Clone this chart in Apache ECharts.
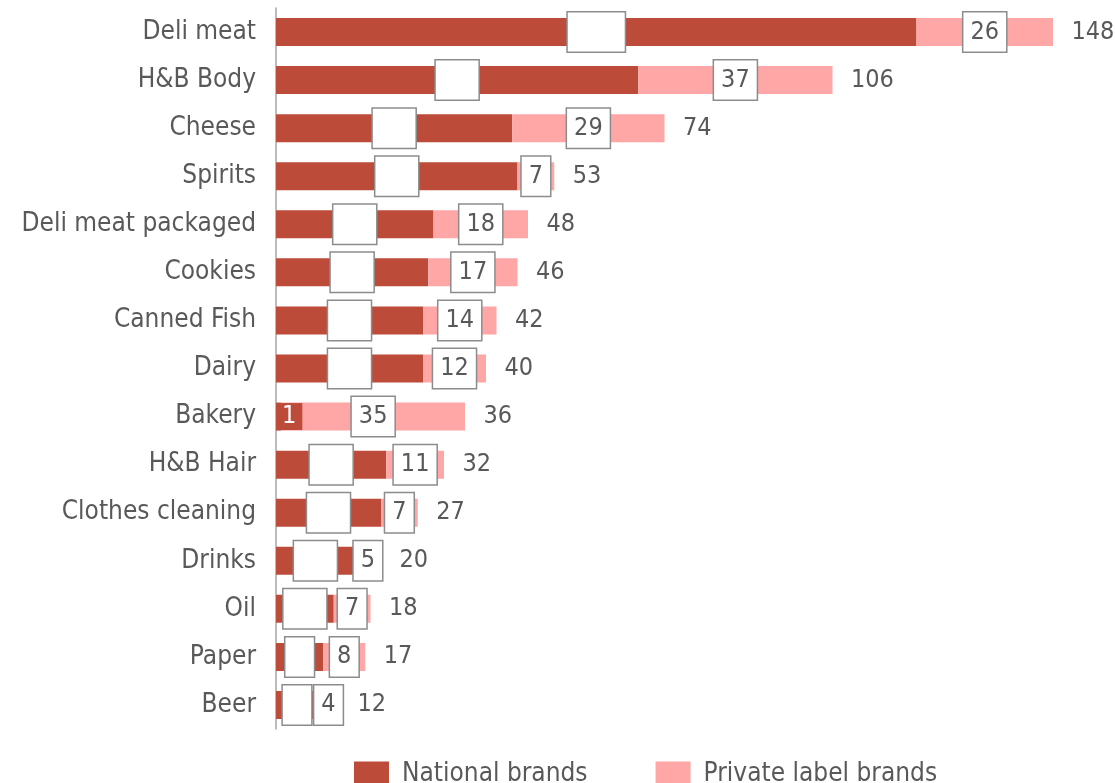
<!DOCTYPE html>
<html><head><meta charset="utf-8">
<script src="https://cdn.jsdelivr.net/npm/echarts@6/dist/echarts.min.js"></script>
<style>html,body{margin:0;padding:0;background:#fff}#c{width:1115px;height:783px}</style>
</head><body><div id="c"></div>
<script>
const categories = ["Deli meat","H&B Body","Cheese","Spirits","Deli meat packaged","Cookies","Canned Fish","Dairy","Bakery","H&B Hair","Clothes cleaning","Drinks","Oil","Paper","Beer"];
const nationalBrands = [122,69,45,46,30,29,28,28,1,21,20,15,11,9,8];
const privateLabel = [26,37,29,7,18,17,14,12,35,11,7,5,7,8,4];
const totals = [148,106,74,53,48,46,42,40,36,32,27,20,18,17,12];
const legendNames = ["National brands","Private label brands"];

const FONT = "DejaVu Sans Condensed";
const TXT = "#595959";
const DARK = "#BC4B3A";
const PINK = "#FFA6A6";
const boxLabel = {
  show: true, position: 'inside', fontFamily: FONT, fontSize: 25, lineHeight: 27,
  backgroundColor: '#fff', borderColor: '#8c8c8c', borderWidth: 1.5, padding: [6, 7]
};
const chart = echarts.init(document.getElementById('c'));
chart.setOption({
  animation: false,
  grid: {left: 276, right: 62, top: 8, bottom: 54},
  xAxis: {type: 'value', min: 0, max: 148, show: false},
  yAxis: {
    type: 'category', inverse: true, data: categories,
    axisLine: {show: true, lineStyle: {color: '#a6a6a6', width: 1.5}},
    axisTick: {show: false},
    axisLabel: {fontFamily: FONT, fontSize: 26, color: TXT, margin: 20}
  },
  legend: {
    data: legendNames, left: 349, top: 756, itemWidth: 35, itemHeight: 25, itemGap: 68, icon: 'rect',
    textStyle: {fontFamily: FONT, fontSize: 26, color: TXT, padding: [0,0,0,8]}
  },
  series: [
    {
      name: legendNames[0], type: 'bar', stack: 'a', barWidth: 28,
      itemStyle: {color: DARK},
      label: Object.assign({}, boxLabel, {color: '#fff'}),
      data: nationalBrands.map((v, i) => categories[i] === 'Bakery'
        ? {value: v, label: {position: 'insideLeft', offset: [-5, 0], color: '#fff', backgroundColor: DARK, borderWidth: 0, padding: [0, 6]}}
        : v)
    },
    {
      name: legendNames[1], type: 'bar', stack: 'a', barWidth: 28,
      itemStyle: {color: PINK},
      label: Object.assign({}, boxLabel, {color: TXT}),
      data: privateLabel
    },
    {
      name: 'Total', type: 'scatter', symbolSize: 1, itemStyle: {color: 'rgba(0,0,0,0)', opacity: 1},
      label: {show: true, position: 'right', distance: 18, fontFamily: FONT, fontSize: 25, color: TXT,
        formatter: p => totals[p.dataIndex]},
      data: totals.map((t, i) => [t, categories[i]])
    }
  ]
});
</script></body></html>
